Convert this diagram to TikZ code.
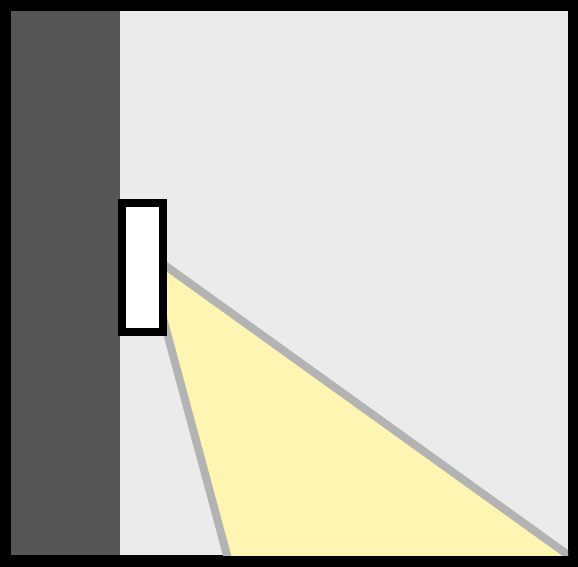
\documentclass[tikz,border=0pt]{standalone}
\definecolor{wallgray}{HTML}{555555}
\definecolor{roomgray}{HTML}{EBEBEB}
\definecolor{beamyellow}{HTML}{FFF5B2}
\definecolor{edgegray}{HTML}{B3B3B3}
\tikzset{
  lamp/.style={draw=black, fill=white, line width=6pt, inner sep=0pt,
    minimum width=31.1pt, minimum height=96.75pt},
  beamedge/.style={draw=edgegray, line width=6pt}
}
\begin{document}
\begin{tikzpicture}[x=0.75pt,y=-0.75pt]
  % FRAME
  \fill[black] (0,0) rectangle (578,567);
  \fill[roomgray] (11,11) rectangle (568,555);

  % WALL
  \fill[wallgray] (11,11) rectangle (120,555);

  % BEAM
  \coordinate (beamtop) at (163,264);
  \coordinate (beambot) at (163,318);
  \coordinate (floorright) at (589,570);
  \coordinate (floorleft) at (231,570);
  \begin{scope}
    \clip (11,11) rectangle (568,555);
    \fill[beamyellow] (beamtop) -- (floorright) -- (floorleft) -- (beambot) -- cycle;
    \draw[beamedge] (beamtop) -- (floorright);
    \draw[beamedge] (beambot) -- (floorleft);
  \end{scope}

  % LAMP
  \node[lamp] (lamp) at (142.25,267) {};
\end{tikzpicture}
\end{document}
